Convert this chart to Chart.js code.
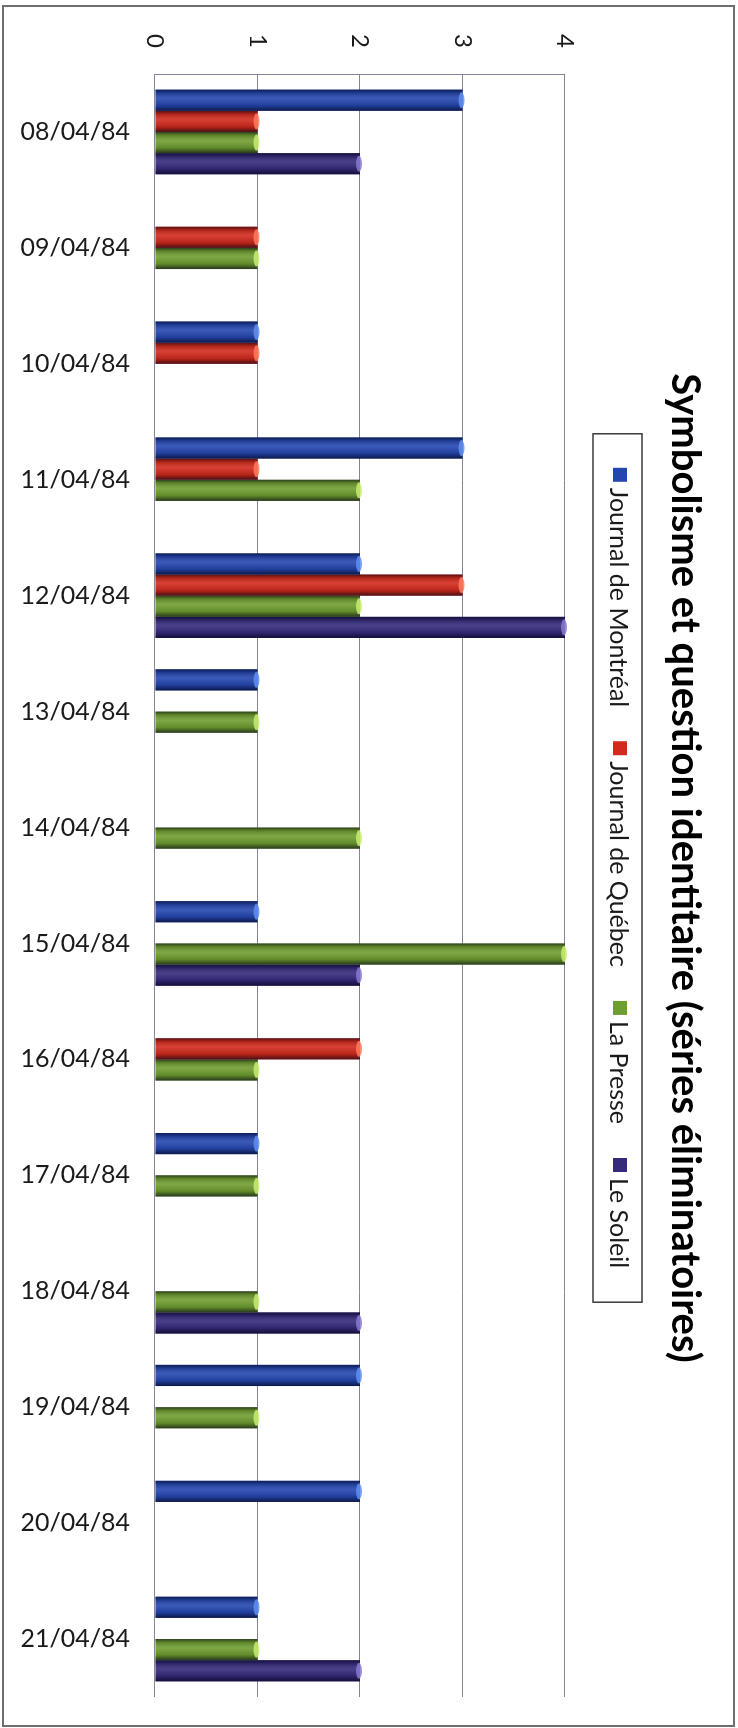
<!DOCTYPE html>
<html lang="fr">
<head>
<meta charset="utf-8">
<title>Symbolisme et question identitaire</title>
<script src="https://cdn.jsdelivr.net/npm/chart.js@4.4.1/dist/chart.umd.min.js"></script>
<style>
  html, body { margin: 0; padding: 0; background: #fff; overflow: hidden; }
  body { width: 738px; height: 1728px; position: relative; }
  /* the original is a column chart turned a quarter clockwise */
  #chart {
    position: absolute; left: 0; top: 0;
    transform-origin: 0 0;
    transform: translate(738px, 0) rotate(90deg);
  }
</style>
</head>
<body>
<canvas id="chart" width="1728" height="738"></canvas>
<script>
const title = "Symbolisme et question identitaire (séries éliminatoires)";

const dates = [
  "08/04/84", "09/04/84", "10/04/84", "11/04/84", "12/04/84", "13/04/84", "14/04/84",
  "15/04/84", "16/04/84", "17/04/84", "18/04/84", "19/04/84", "20/04/84", "21/04/84",
];

const journalMontreal = [3, null, 1, 3, 2, 1, null, 1, null, 1, null, 2, 2, 1];
const journalQuebec   = [1, 1, 1, 1, 3, null, null, null, 2, null, null, null, null, null];
const laPresse        = [1, 1, null, 2, 2, 1, 2, 4, 1, 1, 1, 1, null, 1];
const leSoleil        = [2, null, null, null, 4, null, null, 2, null, null, 2, null, null, 2];

const seriesNames = ["Journal de Montréal", "Journal de Québec", "La Presse", "Le Soleil"];

const Colors = {
  bars: ["#2446b0", "#d22a1c", "#6f9e30", "#352a7c"],
  caps: ["#5f8ff0", "#ff7a5c", "#c8ec70", "#8a78d0"],
  grid: "#85859a",
  text: "#1a1a1a",
  frame: "#6e6e6e",
};

const FONT = "Lato, 'Open Sans', sans-serif";

// white page, outer frame
const framePlugin = {
  id: "frame",
  beforeDraw(chart) {
    const c = chart.ctx;
    c.save();
    c.fillStyle = "#fff";
    c.fillRect(0, 0, chart.width, chart.height);
    c.strokeStyle = Colors.frame;
    c.lineWidth = 2;
    c.strokeRect(6, 4, 1720, 731);
    c.restore();
  },
  // cylinder shading over each bar
  afterDatasetsDraw(chart) {
    const c = chart.ctx;
    c.save();
    chart.data.datasets.forEach((ds, i) => {
      const meta = chart.getDatasetMeta(i);
      meta.data.forEach((bar, j) => {
        if (ds.data[j] == null) return;
        const { x, y, base, width } = bar.getProps(["x", "y", "base", "width"], true);
        const left = x - width / 2;
        const g = c.createLinearGradient(left, 0, left + width, 0);
        g.addColorStop(0, "rgba(0,0,25,0.6)");
        g.addColorStop(0.15, "rgba(0,0,0,0.18)");
        g.addColorStop(0.42, "rgba(255,255,255,0.10)");
        g.addColorStop(0.75, "rgba(0,0,0,0.12)");
        g.addColorStop(1, "rgba(0,0,25,0.65)");
        c.fillStyle = g;
        c.fillRect(left, y, width, base - y);
        c.fillStyle = Colors.caps[i];
        c.globalAlpha = 0.85;
        c.beginPath();
        c.ellipse(x, y + 1, width / 2 - 2.5, 3, 0, 0, Math.PI * 2);
        c.fill();
        c.globalAlpha = 1;
      });
    });
    c.restore();
  },
  // title and framed legend
  afterDraw(chart) {
    const c = chart.ctx;
    const mid = 868;
    c.save();
    c.fillStyle = "#000";
    c.font = "bold 40px " + FONT;
    c.textAlign = "center";
    c.textBaseline = "alphabetic";
    c.fillText(title, mid, 66);

    c.font = "25px " + FONT;
    const box = 14, gap = 6, spacing = 34, pad = 34;
    const widths = seriesNames.map((n) => c.measureText(n).width);
    const inner = widths.reduce((s, w) => s + box + gap + w, 0) + spacing * (seriesNames.length - 1);
    const x0 = mid - inner / 2 - pad;
    c.strokeStyle = "#3a3a3a";
    c.lineWidth = 1.5;
    c.strokeRect(x0, 96, inner + pad * 2, 49);
    let cx = x0 + pad;
    c.textAlign = "left";
    seriesNames.forEach((n, i) => {
      c.fillStyle = Colors.bars[i];
      c.fillRect(cx, 111, box, box);
      c.fillStyle = Colors.text;
      c.fillText(n, cx + box + gap, 128);
      cx += box + gap + widths[i] + spacing;
    });
    c.restore();
  },
};

const makeSet = (label, data, i) => ({
  label,
  data,
  backgroundColor: Colors.bars[i],
  borderWidth: 0,
  categoryPercentage: 0.73,
  barPercentage: 1,
});

new Chart(document.getElementById("chart"), {
  type: "bar",
  data: {
    labels: dates,
    datasets: [
      makeSet(seriesNames[0], journalMontreal, 0),
      makeSet(seriesNames[1], journalQuebec, 1),
      makeSet(seriesNames[2], laPresse, 2),
      makeSet(seriesNames[3], leSoleil, 3),
    ],
  },
  options: {
    responsive: false,
    animation: false,
    devicePixelRatio: 1,
    layout: { padding: { top: 173, right: 31, left: 0, bottom: 0 } },
    plugins: {
      legend: { display: false },
      title: { display: false },
      tooltip: { enabled: false },
    },
    scales: {
      x: {
        grid: { display: false },
        border: { display: false },
        ticks: {
          minRotation: 90,
          maxRotation: 90,
          padding: 17,
          color: Colors.text,
          font: { family: FONT, size: 25 },
        },
        afterFit: (s) => { s.height = 155; },
      },
      y: {
        min: 0,
        max: 4,
        ticks: {
          stepSize: 1,
          padding: 26,
          color: Colors.text,
          font: { family: FONT, size: 24 },
        },
        grid: { color: Colors.grid, lineWidth: 1, drawTicks: false },
        border: { display: true, color: Colors.grid, width: 1 },
        afterFit: (s) => { s.width = 74; },
      },
    },
  },
  plugins: [framePlugin],
});
</script>
</body>
</html>
